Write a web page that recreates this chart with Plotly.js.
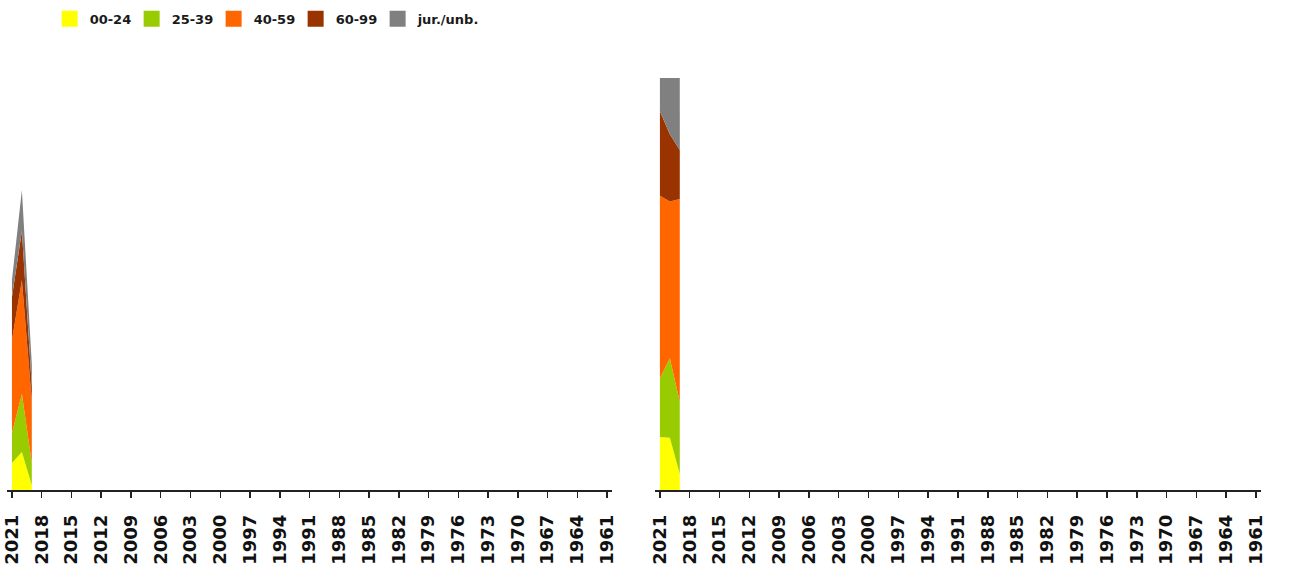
<!DOCTYPE html>
<html>
<head>
<meta charset="utf-8">
<script src="https://cdn.plot.ly/plotly-3.0.1.min.js"></script>
<style>html,body{margin:0;padding:0;background:#fff;}#chart{width:1289px;height:573px;}</style>
</head>
<body>
<div id="chart"></div>
<script>
// ---- data ----
const years = [2021, 2020, 2019];
const categories = ["00-24", "25-39", "40-59", "60-99", "jur./unb."];
const s0024 = [27, 38, 5];
const s2539 = [30, 58, 22];
const s4059 = [93, 114, 62];
const s6099 = [43, 49, 15];
const sJur  = [17, 41, 22];
const tickYears = [2021, 2018, 2015, 2012, 2009, 2006, 2003, 2000, 1997, 1994, 1991,
                   1988, 1985, 1982, 1979, 1976, 1973, 1970, 1967, 1964, 1961];
const colors = ["#FFFF00", "#99CC00", "#FF6600", "#993300", "#808080"];

const seriesList = [s0024, s2539, s4059, s6099, sJur];
const traces = [];
seriesList.forEach((vals, i) => {
  traces.push({
    type: "scatter", x: years, y: vals, xaxis: "x", yaxis: "y",
    stackgroup: "abs", mode: "none", fillcolor: colors[i], line: {width: 0},
    name: categories[i], showlegend: false, hoverinfo: "x+y+name"
  });
});
seriesList.forEach((vals, i) => {
  traces.push({
    type: "scatter", x: years, y: vals, xaxis: "x2", yaxis: "y2",
    stackgroup: "pct", groupnorm: "percent", mode: "none", fillcolor: colors[i], line: {width: 0},
    name: categories[i], showlegend: false, hoverinfo: "x+y+name"
  });
});
// legend entries
categories.forEach((c, i) => {
  traces.push({
    type: "scatter", x: [null], y: [null], xaxis: "x", yaxis: "y", mode: "markers",
    marker: {symbol: "square", size: 16, color: colors[i]}, name: c, showlegend: true
  });
});
// empty spacer entry so the last legend label is not clipped
traces.push({
  type: "scatter", x: [null], y: [null], xaxis: "x", yaxis: "y", mode: "markers",
  marker: {symbol: "square", size: 16, color: "rgba(0,0,0,0)"}, name: " ", showlegend: true
});

const xCommon = {
  range: [2021.5, 1960.5], tickmode: "array", tickvals: tickYears, ticktext: tickYears.map(String),
  tickangle: -90, ticks: "outside", ticklen: 6, tickwidth: 1.5, tickcolor: "#222",
  showline: true, linecolor: "#222", linewidth: 1.5, showgrid: false, zeroline: false,
  ticklabelstandoff: 10,
  tickfont: {family: "DejaVu Sans", size: 18, color: "#111", weight: "bold"}, fixedrange: true
};
const yCommon = {showline: false, showgrid: false, zeroline: false, showticklabels: false, ticks: "", fixedrange: true};

const layout = {
  width: 1289, height: 573,
  margin: {l: 7, r: 28, t: 78, b: 83, autoexpand: false},
  paper_bgcolor: "#fff", plot_bgcolor: "#fff",
  font: {family: "DejaVu Sans", color: "#111"},
  showlegend: true,
  legend: {orientation: "h", traceorder: "normal", x: 0.034, xanchor: "left", y: 1.18, yanchor: "top",
           font: {family: "DejaVu Sans", size: 13, color: "#1a1a1a", weight: "bold"},
           entrywidth: 37, entrywidthmode: "pixels", itemclick: false},
  xaxis: Object.assign({domain: [0, 0.4825], anchor: "y"}, xCommon),
  yaxis: Object.assign({range: [0, 412], anchor: "x"}, yCommon),
  xaxis2: Object.assign({domain: [0.5167, 1], anchor: "y2"}, xCommon),
  yaxis2: Object.assign({range: [0, 100], anchor: "x2"}, yCommon)
};

Plotly.newPlot("chart", traces, layout, {displayModeBar: false, staticPlot: true});
</script>
</body>
</html>
